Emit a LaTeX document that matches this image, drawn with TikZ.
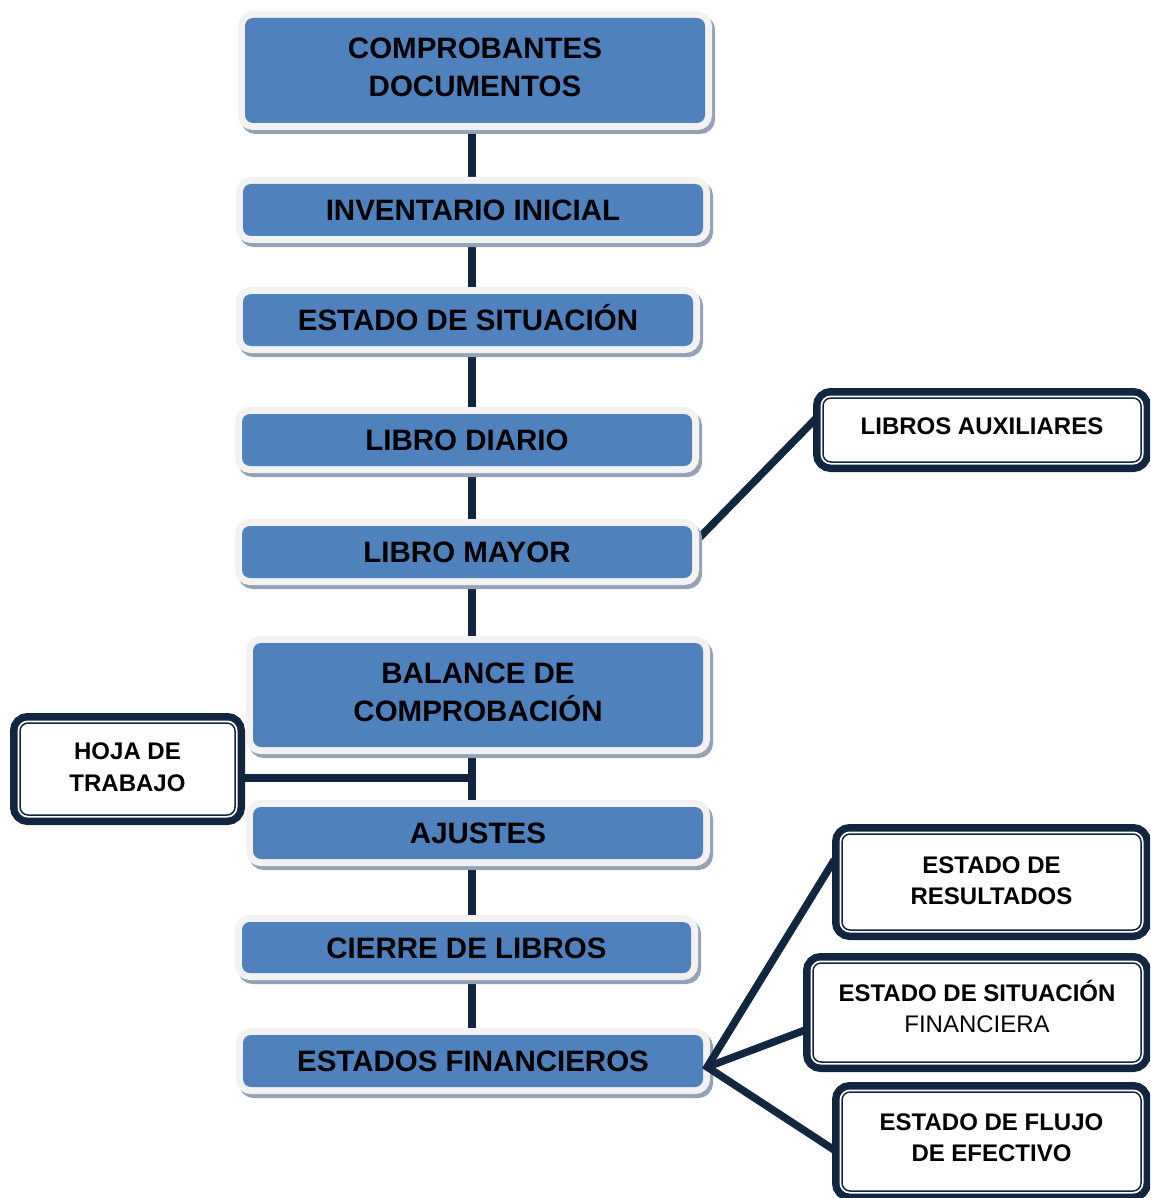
\documentclass[tikz,border=0pt]{standalone}
\usepackage{fontspec}
\setmainfont{Liberation Sans}
\usetikzlibrary{calc}
\pgfdeclarelayer{background}
\pgfsetlayers{background,main}
\definecolor{boxblue}{HTML}{4F81BD}
\definecolor{navy}{HTML}{13263F}
\definecolor{lightrim}{HTML}{F2F2F2}
\definecolor{shadowc}{HTML}{94A2B6}
\newcommand\mybigfont{\fontsize{29.5}{38}\selectfont\bfseries}
\newcommand\mysmallfont{\fontsize{24}{31.5}\selectfont\bfseries}
\newcommand\lift[1]{\rule[-#1]{0pt}{0pt}}
\begin{document}
\begin{tikzpicture}[x=1pt,y=-1pt,
  bluebox/.style={rectangle, rounded corners=8pt, fill=boxblue, inner sep=0pt,
    align=center, font=\mybigfont,
    preaction={draw=shadowc, line width=14pt, transform canvas={shift={(3pt,-4pt)}}},
    preaction={draw=lightrim, line width=14pt}},
  oneline/.style={text height=21pt, text depth=0pt},
  dblbox/.style={rectangle, rounded corners=8pt, draw=navy, line width=1.5pt,
    fill=white, inner sep=0pt, align=center, font=\mysmallfont,
    preaction={draw=navy, line width=20pt},
    preaction={draw=white, line width=5pt}},
  conn/.style={draw=navy, line width=7.5pt}]
\useasboundingbox (0,0) rectangle (1150,1198);
\clip (0,0) rectangle (1150,1198);
\coordinate (sp) at (472,0);

% main column
\node[bluebox, minimum width=460pt, minimum height=105pt] (comp) at (475,70.5) {COMPROBANTES\\DOCUMENTOS\lift{6pt}};
\node[bluebox, oneline, minimum width=460pt, minimum height=52pt] (inv) at (473,210) {INVENTARIO INICIAL};
\node[bluebox, oneline, minimum width=450pt, minimum height=52pt] (est) at (468,320) {ESTADO DE SITUACIÓN};
\node[bluebox, oneline, minimum width=450pt, minimum height=52pt] (diario) at (467,440) {LIBRO DIARIO};
\node[bluebox, oneline, minimum width=450pt, minimum height=52pt] (mayor) at (467,552) {LIBRO MAYOR};
\node[bluebox, minimum width=450pt, minimum height=104pt] (bal) at (478,695) {BALANCE DE\\COMPROBACIÓN\lift{5pt}};
\node[bluebox, oneline, minimum width=450pt, minimum height=52pt] (aj) at (478,833) {AJUSTES};
\node[bluebox, oneline, minimum width=449pt, minimum height=51pt] (cierre) at (466.5,947.5) {CIERRE DE LIBROS};
\node[bluebox, oneline, minimum width=460pt, minimum height=52pt] (ef) at (473,1061) {ESTADOS FINANCIEROS};

% side boxes
\node[dblbox, minimum width=318pt, minimum height=64pt, text height=17pt, text depth=8pt] (aux) at (982,430) {LIBROS AUXILIARES};
\node[dblbox, minimum width=215pt, minimum height=92pt] (hoja) at (127.5,769) {HOJA DE\\TRABAJO\lift{4pt}};
\node[dblbox, minimum width=299pt, minimum height=96pt] (res) at (991.5,882) {ESTADO DE\\RESULTADOS\lift{3pt}};
\node[dblbox, minimum width=328pt, minimum height=99pt] (sit) at (977,1012.5) {ESTADO DE SITUACIÓN\\\mdseries FINANCIERA\lift{12pt}};
\node[dblbox, minimum width=299pt, minimum height=99pt] (flujo) at (991.5,1141.5) {ESTADO DE FLUJO\\DE EFECTIVO\lift{8pt}};

% connectors behind the boxes
\begin{pgfonlayer}{background}
  \foreach \a/\b in {comp/inv, inv/est, est/diario, diario/mayor, mayor/bal, bal/aj, aj/cierre, cierre/ef}
    \draw[conn] (\a.south -| sp) -- (\b.north -| sp);
  \draw[conn] ([yshift=-9pt]hoja.east) coordinate (h1) -- (h1 -| sp);
  \draw[conn] ([yshift=7pt]mayor.east) -- ([yshift=18pt]aux.west);
\end{pgfonlayer}

% connectors from ESTADOS FINANCIEROS
\coordinate (efp) at ([xshift=4pt,yshift=-6pt]ef.east);
\draw[conn] ([xshift=-7pt,yshift=22pt]res.west) -- (efp) -- ([xshift=-7pt,yshift=-8.5pt]flujo.west);
\draw[conn] (efp) -- ([xshift=-7pt,yshift=-17.5pt]sit.west);
\end{tikzpicture}
\end{document}
